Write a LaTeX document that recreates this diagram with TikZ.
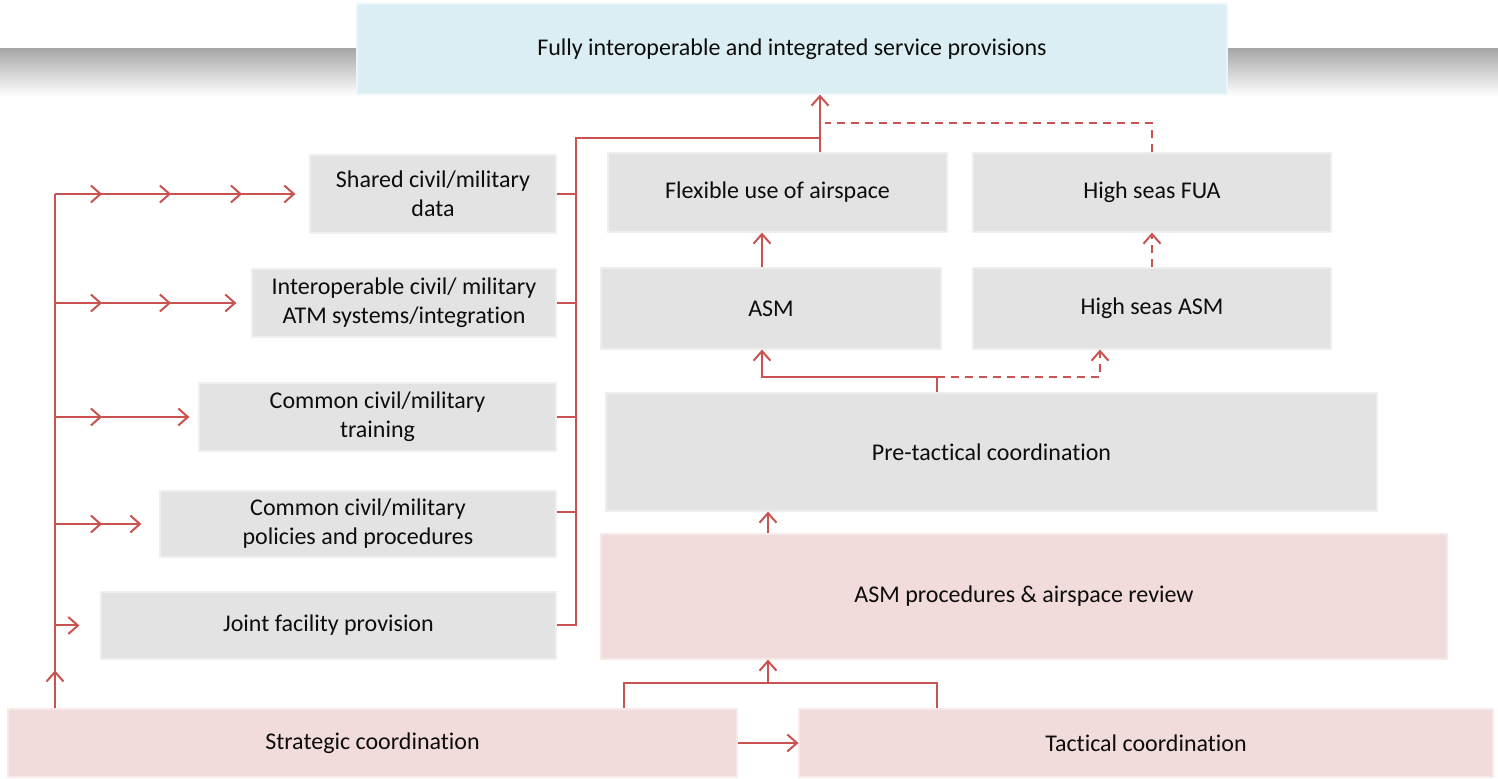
\documentclass[tikz,border=0pt]{standalone}
\usepackage{fontspec}
\setmainfont{Carlito}[Ligatures=NoCommon]
\usetikzlibrary{arrows.meta,decorations.markings,calc}
\definecolor{lred}{RGB}{201,83,80}
\definecolor{gbox}{RGB}{227,227,227}
\definecolor{pbox}{RGB}{242,220,219}
\definecolor{bbox}{RGB}{219,238,243}
\definecolor{bandc}{RGB}{168,168,168}
\begin{document}
\begin{tikzpicture}[x=0.5pt,y=-0.5pt,
  >={Straight Barb[length=4.8pt,width=8.5pt]},
  box/.style={inner sep=0pt, align=center, font=\fontsize{12}{14.5}\selectfont, text=black!95},
  gbx/.style={box, fill=gbox, draw=gbox!60!white, line width=0.6pt},
  pbx/.style={box, fill=pbox, draw=pbox!60!white, line width=0.6pt},
  bbx/.style={box, fill=bbox, draw=bbox!60!white, line width=0.6pt},
  sz/.style 2 args={minimum width=#1*0.5pt, minimum height=#2*0.5pt},
  rl/.style={draw=lred, line width=1pt},
  dsh/.style={dash pattern=on 4pt off 3pt},
  marks/.style={postaction={decorate,decoration={markings,mark=at position #1 with {\arrow[lred]{>}}}}}
]
\useasboundingbox (0,0) rectangle (1498,779);
% gradient band
\shade[top color=bandc, bottom color=white] (0,49) rectangle (1498,96);

% nodes
\node[bbx, sz={870}{90}] (top) at (792,49) {Fully interoperable and integrated service provisions};
\node[gbx, sz={246}{78}] (shared) at (433,194) {Shared civil/military\\data};
\node[gbx, sz={304}{68}] (interop) at (404,303) {Interoperable civil/ military\\ATM systems/integration};
\node[gbx, sz={357}{68}] (training) at (377.5,417) {Common civil/military\\training};
\node[gbx, sz={396}{66}] (policies) at (358,524) {Common civil/military\\policies and procedures};
\node[gbx, sz={455}{67}] (joint) at (328.5,625.5) {Joint facility provision};
\node[pbx, sz={729}{68}] (strategic) at (372.5,743) {Strategic coordination};
\node[pbx, sz={694}{68}] (tactical) at (1146,743) {Tactical coordination};
\node[pbx, sz={846}{125}] (asmproc) at (1024,596.5) {ASM procedures \& airspace review};
\node[gbx, sz={771}{118}] (pretact) at (991.5,452) {Pre-tactical coordination};
\node[gbx, sz={340}{81}] (asm) at (771,308.5) {ASM};
\node[gbx, sz={358}{81}] (hsasm) at (1152,308.5) {High seas ASM};
\node[gbx, sz={339}{79}] (flex) at (777.5,192.5) {Flexible use of airspace};
\node[gbx, sz={358}{79}] (hsfua) at (1152,192.5) {High seas FUA};

% helper coordinates
\coordinate (tx) at (55,0);
\coordinate (bx) at (576,0);
\coordinate (by) at (0,138);
\coordinate (fx) at (820,0);
\coordinate (dj) at (825,123);
\coordinate (ax) at (762,0);
\coordinate (pj) at (937,377);
\coordinate (hx) at (1100,0);
\coordinate (px) at (768,0);
\coordinate (sl) at (624,0);
\coordinate (ly) at (0,683);

% left trunk
\draw[rl, marks=19pt] (strategic.north -| tx) -- (shared.west -| tx);
\draw[rl, ->, shorten >=7pt, marks=23.5pt, marks=58pt, marks=93.5pt] (shared.west -| tx) -- (shared.west);
\draw[rl, ->, shorten >=7.5pt, marks=23.5pt, marks=58pt] (interop.west -| tx) -- (interop.west);
\draw[rl, ->, shorten >=4.5pt, marks=23.5pt] (training.west -| tx) -- (training.west);
\draw[rl, ->, shorten >=9pt, marks=23.5pt] (policies.west -| tx) -- (policies.west);
\draw[rl, ->, shorten >=10.5pt] (joint.west -| tx) -- (joint.west);

% right bus
\draw[rl] (shared.east) -- (shared.east -| bx);
\draw[rl] (interop.east) -- (interop.east -| bx);
\draw[rl] (training.east) -- (training.east -| bx);
\draw[rl] ($(policies.east)+(0,-12)$) -- ($(policies.east -| bx)+(0,-12)$);
\draw[rl] (joint.east) -- (joint.east -| bx) -- (bx |- by) -- (fx |- by);
\draw[rl, ->] (flex.north -| fx) -- (top.south -| fx);
\draw[rl, dsh] (hsfua.north) |- (dj);

% middle column
\draw[rl, ->] (asm.north -| ax) -- (flex.south -| ax);
\draw[rl, dsh, ->] (hsasm.north) -- (hsfua.south);
\draw[rl, ->] (pretact.north -| pj) -- (pj) -| (asm.south -| ax);
\draw[rl, dsh, ->] (pj) -| (hsasm.south -| hx);
\draw[rl, ->] (asmproc.north -| px) -- (pretact.south -| px);

% bottom
\draw[rl] (strategic.north -| sl) |- (ly -| pj) -- (tactical.north -| pj);
\draw[rl, ->] (px |- ly) -- (asmproc.south -| px);
\draw[rl, ->] (strategic.east) -- (tactical.west);
\end{tikzpicture}
\end{document}
